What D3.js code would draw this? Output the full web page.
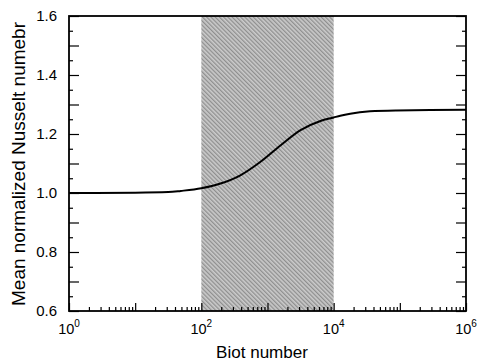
<!DOCTYPE html>
<html>
<head>
<meta charset="utf-8">
<script src="https://cdn.jsdelivr.net/npm/d3@7"></script>
<style>
  body { margin: 0; background: #fff; }
  text { font-family: "Liberation Sans", Arial, sans-serif; fill: #000; }
</style>
</head>
<body>
<div id="chart"></div>
<script>
// curve: log10(Biot) and mean normalized Nusselt number
const biotLog = [0, 1, 1.5, 1.69, 2.0, 2.29, 2.59, 2.89, 3.2, 3.5, 3.8, 4.0, 4.1, 4.25, 4.55, 4.95, 5.46, 6];
const nusselt = [1.0, 1.001, 1.003, 1.007, 1.016, 1.032, 1.06, 1.105, 1.162, 1.213, 1.244, 1.256, 1.262, 1.269, 1.277, 1.28, 1.281, 1.282];
const shadedRange = [1e2, 1e4];
const xLabelExps = [0, 2, 4, 6];
const yLabels = [0.6, 0.8, 1.0, 1.2, 1.4, 1.6];

const W = 477, H = 362;
const margin = { top: 16, right: 11, bottom: 51, left: 69 };
const width = W - margin.left - margin.right;
const height = H - margin.top - margin.bottom;

const svg = d3.select("#chart").append("svg")
  .attr("width", W)
  .attr("height", H);

// hatch pattern for the shaded band (stripes running down to the right)
const defs = svg.append("defs");
const pat = defs.append("pattern")
  .attr("id", "hatch")
  .attr("patternUnits", "userSpaceOnUse")
  .attr("width", 3).attr("height", 3)
  .attr("patternTransform", "rotate(-45)");
pat.append("rect").attr("width", 3).attr("height", 3).attr("fill", "#cbcbcb");
pat.append("rect").attr("width", 1.3).attr("height", 3).attr("fill", "#8f8f8f");

const g = svg.append("g")
  .attr("transform", "translate(" + margin.left + "," + margin.top + ")");

const x = d3.scaleLog().domain([1, 1e6]).range([0, width]);
const y = d3.scaleLinear().domain([0.6, 1.6]).range([height, 0]);

// shaded band
g.append("rect")
  .attr("x", x(shadedRange[0]))
  .attr("y", 0)
  .attr("width", x(shadedRange[1]) - x(shadedRange[0]))
  .attr("height", height)
  .attr("fill", "url(#hatch)");

// x ticks (log, inside)
const xTicks = [];
for (let e = 0; e < 6; e++) {
  for (let m = 1; m <= 9; m++) xTicks.push(m * Math.pow(10, e));
}
xTicks.push(1e6);
g.append("g")
  .attr("transform", "translate(0," + height + ")")
  .call(d3.axisBottom(x).tickValues(xTicks).tickSize(0).tickFormat(""))
  .call(a => a.select(".domain").remove())
  .selectAll(".tick line")
  .attr("stroke", "#000")
  .attr("stroke-width", 1.2)
  .attr("y2", d => (Math.abs(Math.log10(d) - Math.round(Math.log10(d))) < 1e-9) ? -8 : -4);

// x labels as 10^n
const xl = g.append("g").selectAll("text")
  .data(xLabelExps)
  .join("text")
  .attr("x", d => x(Math.pow(10, d)))
  .attr("y", height + 23)
  .attr("text-anchor", "middle")
  .style("font-size", "14.5px");
xl.append("tspan").text("10");
xl.append("tspan").attr("dy", -7).style("font-size", "10px").text(d => d);

// y ticks on left and right, pointing inward
const yTicks = d3.range(0.6, 1.6001, 0.05).map(v => Math.round(v * 100) / 100);
const isMajor = v => Math.abs(v * 10 - Math.round(v * 10)) < 1e-6;
g.append("g")
  .call(d3.axisLeft(y).tickValues(yTicks).tickSize(0).tickFormat(""))
  .call(a => a.select(".domain").remove())
  .selectAll(".tick line")
  .attr("stroke", "#000").attr("stroke-width", 1.2)
  .attr("x2", d => isMajor(d) ? 10 : 4);
g.append("g")
  .attr("transform", "translate(" + width + ",0)")
  .call(d3.axisRight(y).tickValues(yTicks).tickSize(0).tickFormat(""))
  .call(a => a.select(".domain").remove())
  .selectAll(".tick line")
  .attr("stroke", "#000").attr("stroke-width", 1.2)
  .attr("x2", d => isMajor(d) ? -10 : -4);

// y labels
g.append("g").selectAll("text")
  .data(yLabels)
  .join("text")
  .attr("x", -12)
  .attr("y", d => y(d))
  .attr("dy", "0.36em")
  .attr("text-anchor", "end")
  .style("font-size", "15px")
  .text(d => d.toFixed(1));

// frame
g.append("rect")
  .attr("width", width).attr("height", height)
  .attr("fill", "none").attr("stroke", "#000").attr("stroke-width", 1.8);

// curve
const pts = biotLog.map((b, i) => [Math.pow(10, b), nusselt[i]]);
g.append("path")
  .datum(pts)
  .attr("fill", "none")
  .attr("stroke", "#000")
  .attr("stroke-width", 2)
  .attr("d", d3.line().x(d => x(d[0])).y(d => y(d[1])).curve(d3.curveMonotoneX));

// axis titles
svg.append("text")
  .attr("x", 262)
  .attr("y", 358)
  .attr("text-anchor", "middle")
  .style("font-size", "17px")
  .attr("textLength", 92)
  .attr("lengthAdjust", "spacingAndGlyphs")
  .text("Biot number");
svg.append("text")
  .attr("transform", "translate(25,164) rotate(-90)")
  .attr("text-anchor", "middle")
  .style("font-size", "17.5px")
  .attr("textLength", 284)
  .attr("lengthAdjust", "spacingAndGlyphs")
  .text("Mean normalized Nusselt numebr");
</script>
</body>
</html>
